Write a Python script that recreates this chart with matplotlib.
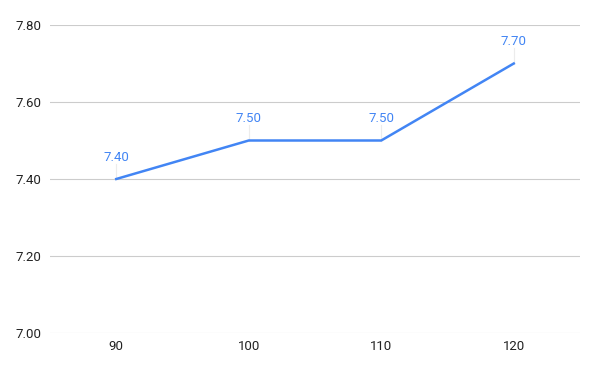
import matplotlib
matplotlib.use("Agg")
import matplotlib.pyplot as plt

# chart data
categories = ["90", "100", "110", "120"]
values = [7.40, 7.50, 7.50, 7.70]
y_ticks = [7.00, 7.20, 7.40, 7.60, 7.80]

plt.rcParams['font.family'] = ['Roboto', 'DejaVu Sans']

fig = plt.figure(figsize=(6, 3.71), dpi=100)
ax = fig.add_axes([50 / 600, 38 / 371, 530 / 600, 308 / 371])

x = list(range(len(categories)))
line_color = "#4285F4"

# faint leader lines from points to labels
for xi, v in zip(x, values):
    ax.plot([xi, xi], [v, v + 0.04], color="#ececec", linewidth=0.8, zorder=1)

ax.plot(x, values, color=line_color, linewidth=1.8, zorder=3, solid_joinstyle="round")

for xi, v in zip(x, values):
    ax.annotate(f"{v:.2f}", (xi, v), xytext=(0, 11), textcoords="offset points",
                ha="center", va="bottom", color=line_color, fontsize=9.5)

ax.set_xlim(-0.5, len(categories) - 0.5)
ax.set_ylim(7.00, 7.80)
ax.set_xticks(x)
ax.set_xticklabels(categories)
ax.set_yticks(y_ticks)
ax.set_yticklabels([f"{t:.2f}" for t in y_ticks])

ax.grid(axis="y", color="#cccccc", linewidth=0.8)
ax.set_axisbelow(True)
for side in ["top", "right", "left", "bottom"]:
    ax.spines[side].set_visible(False)
ax.tick_params(axis="both", length=0, labelsize=9.5, colors="#222222")
ax.tick_params(axis="x", pad=5)
ax.tick_params(axis="y", pad=6)

fig.savefig("out.png", dpi=100)
